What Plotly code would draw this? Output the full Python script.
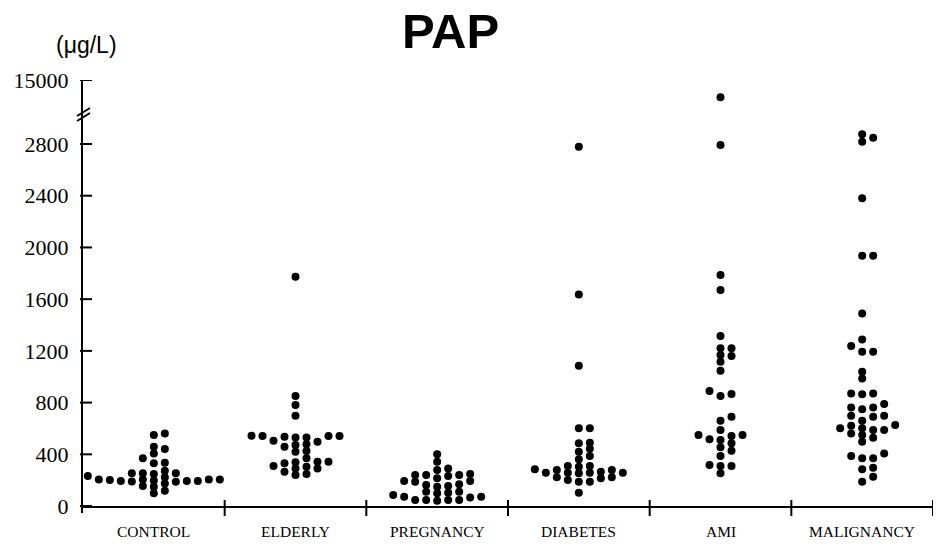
import plotly.graph_objects as go

# ---------------- data (µg/L) ----------------
categories = ["CONTROL", "ELDERLY", "PREGNANCY", "DIABETES", "AMI", "MALIGNANCY"]

control = [206, 253, 188, 201, 247, 206, 150, 459, 222, 175, 119,
           549, 407, 335, 273, 206, 155, 98, 562, 441, 330, 232, 193,
           369, 253, 190, 253, 193, 198, 206, 193]

elderly = [1773, 851, 781, 698, 541, 541, 505, 536, 459, 541, 477, 420,
           497, 425, 531, 472, 531, 543, 330, 309, 265, 343, 291, 240,
           338, 247, 369, 304, 343, 291]

pregnancy = [240, 155, 72, 240, 168, 85, 46, 343, 278, 193, 111, 67,
             400, 291, 232, 162, 98, 46, 240, 188, 103, 46, 247, 193,
             111, 46, 214, 150, 72, 41]

diabetes = [2779, 1637, 1085, 601, 601, 490, 485, 443, 387, 420, 361,
            304, 253, 188, 103, 258, 309, 258, 201, 278, 214, 284, 222,
            278, 222, 309, 258, 188, 265, 258]

ami = [8500, 2792, 1787, 1671, 1315, 1220, 1220, 1168, 1160, 1116, 1047,
       889, 851, 866, 691, 660, 588, 541, 549, 485, 516, 510, 549, 454,
       387, 428, 317, 309, 253, 309]

malignancy = [2875, 2818, 2849, 2380, 1936, 1936, 1490, 1289, 1237, 1194,
              1194, 1039, 987, 871, 864, 871, 763, 748, 763, 789, 698, 691,
              698, 660, 626, 562, 601, 588, 528, 588, 497, 601, 549, 621,
              387, 369, 369, 407, 296, 284, 227, 188]

groups = [control, elderly, pregnancy, diabetes, ami, malignancy]

y_tick_values = [0, 400, 800, 1200, 1600, 2000, 2400, 2800, 15000]
y_tick_labels = ["0", "400", "800", "1200", "1600", "2000", "2400", "2800", "15000"]

# ---------------- broken-axis scale ----------------
BREAK = 3050.0
TOP_POS = 3295.0
TOP_VAL = 15000.0


def to_pos(v):
    if v <= BREAK:
        return v
    return BREAK + (v - BREAK) * (TOP_POS - BREAK) / (TOP_VAL - BREAK)


# ---------------- layout geometry ----------------
W, H = 944, 546
BOX_L, BOX_R, BOX_T, BOX_B = 83, 933, 80, 513
ML, MT = BOX_L, BOX_T
MR, MB = W - BOX_R, H - BOX_B
plot_w = BOX_R - BOX_L
plot_h = BOX_B - BOX_T
y_lo = TOP_POS - plot_h / 0.1293
px_per_unit = plot_h / (TOP_POS - y_lo)
col_dx = 11.0 / plot_w * 6.0
min_dy = 6.0


def px(x):
    return (x - BOX_L) / plot_w


def py(y):
    return (BOX_B - y) / plot_h


def swarm(values, center):
    placed = {}
    xs, ys = [], []
    cand = [0]
    for k in range(1, 20):
        cand += [k, -k]
    for v in sorted(values):
        p = to_pos(v) * px_per_unit
        chosen = 0
        for c in cand:
            if all(abs(p - q) >= min_dy for q in placed.get(c, [])):
                chosen = c
                break
        placed.setdefault(chosen, []).append(p)
        xs.append(center + chosen * col_dx)
        ys.append(to_pos(v))
    return xs, ys


fig = go.Figure()
for i, vals in enumerate(groups):
    xs, ys = swarm(vals, i + 0.5)
    fig.add_trace(go.Scatter(
        x=xs, y=ys, mode="markers",
        marker=dict(color="black", size=8, line=dict(width=0)),
        showlegend=False, hoverinfo="skip"))

shapes = []
# x axis line and ticks
shapes.append(dict(type="line", xref="x", yref="paper", x0=0, x1=6,
                   y0=py(507), y1=py(507), line=dict(color="black", width=2)))
for k in range(1, 7):
    shapes.append(dict(type="line", xref="x", yref="paper", x0=k, x1=k,
                       y0=py(500), y1=py(516),
                       line=dict(color="black", width=2)))
# y ticks crossing the axis
for tv in y_tick_values:
    p = to_pos(tv)
    shapes.append(dict(type="line", xref="paper", yref="y",
                       x0=px(80), x1=px(92), y0=p, y1=p,
                       line=dict(color="black", width=2)))
# axis break marks
for off in (0, 5):
    shapes.append(dict(type="line", xref="paper", yref="paper",
                       x0=px(77), x1=px(90),
                       y0=py(116 + off), y1=py(108 + off),
                       line=dict(color="black", width=2)))

annotations = []
for i, c in enumerate(categories):
    annotations.append(dict(x=i + 0.5, xref="x", y=py(531), yref="paper",
                            text=c, showarrow=False,
                            xanchor="center", yanchor="middle",
                            font=dict(family="Liberation Serif", size=15.5,
                                      color="black")))
annotations.append(dict(x=px(450), xref="paper", y=py(31),
                        yref="paper", text="<b>PAP</b>", showarrow=False,
                        xanchor="center", yanchor="middle",
                        font=dict(family="Liberation Sans", size=49,
                                  color="black")))
annotations.append(dict(x=px(86), xref="paper", y=py(45),
                        yref="paper", text="(μg/L)", showarrow=False,
                        xanchor="center", yanchor="middle",
                        font=dict(family="Liberation Sans", size=23,
                                  color="black")))

fig.update_layout(
    width=W, height=H,
    margin=dict(l=ML, r=MR, t=MT, b=MB, autoexpand=False),
    paper_bgcolor="white", plot_bgcolor="white",
    shapes=shapes, annotations=annotations,
    xaxis=dict(range=[0, 6], showgrid=False, zeroline=False,
               showticklabels=False, ticks="", showline=False,
               automargin=False),
    yaxis=dict(range=[y_lo, TOP_POS], showgrid=False, zeroline=False,
               showline=True, linecolor="black", linewidth=2,
               tickvals=[to_pos(v) for v in y_tick_values],
               ticktext=y_tick_labels, ticks="",
               ticklabelstandoff=8, automargin=False,
               tickfont=dict(family="Liberation Serif", size=22,
                             color="black")),
)

fig.write_html("out.html",
               config={"displayModeBar": False},
               post_script="document.body.style.margin='0px';")
